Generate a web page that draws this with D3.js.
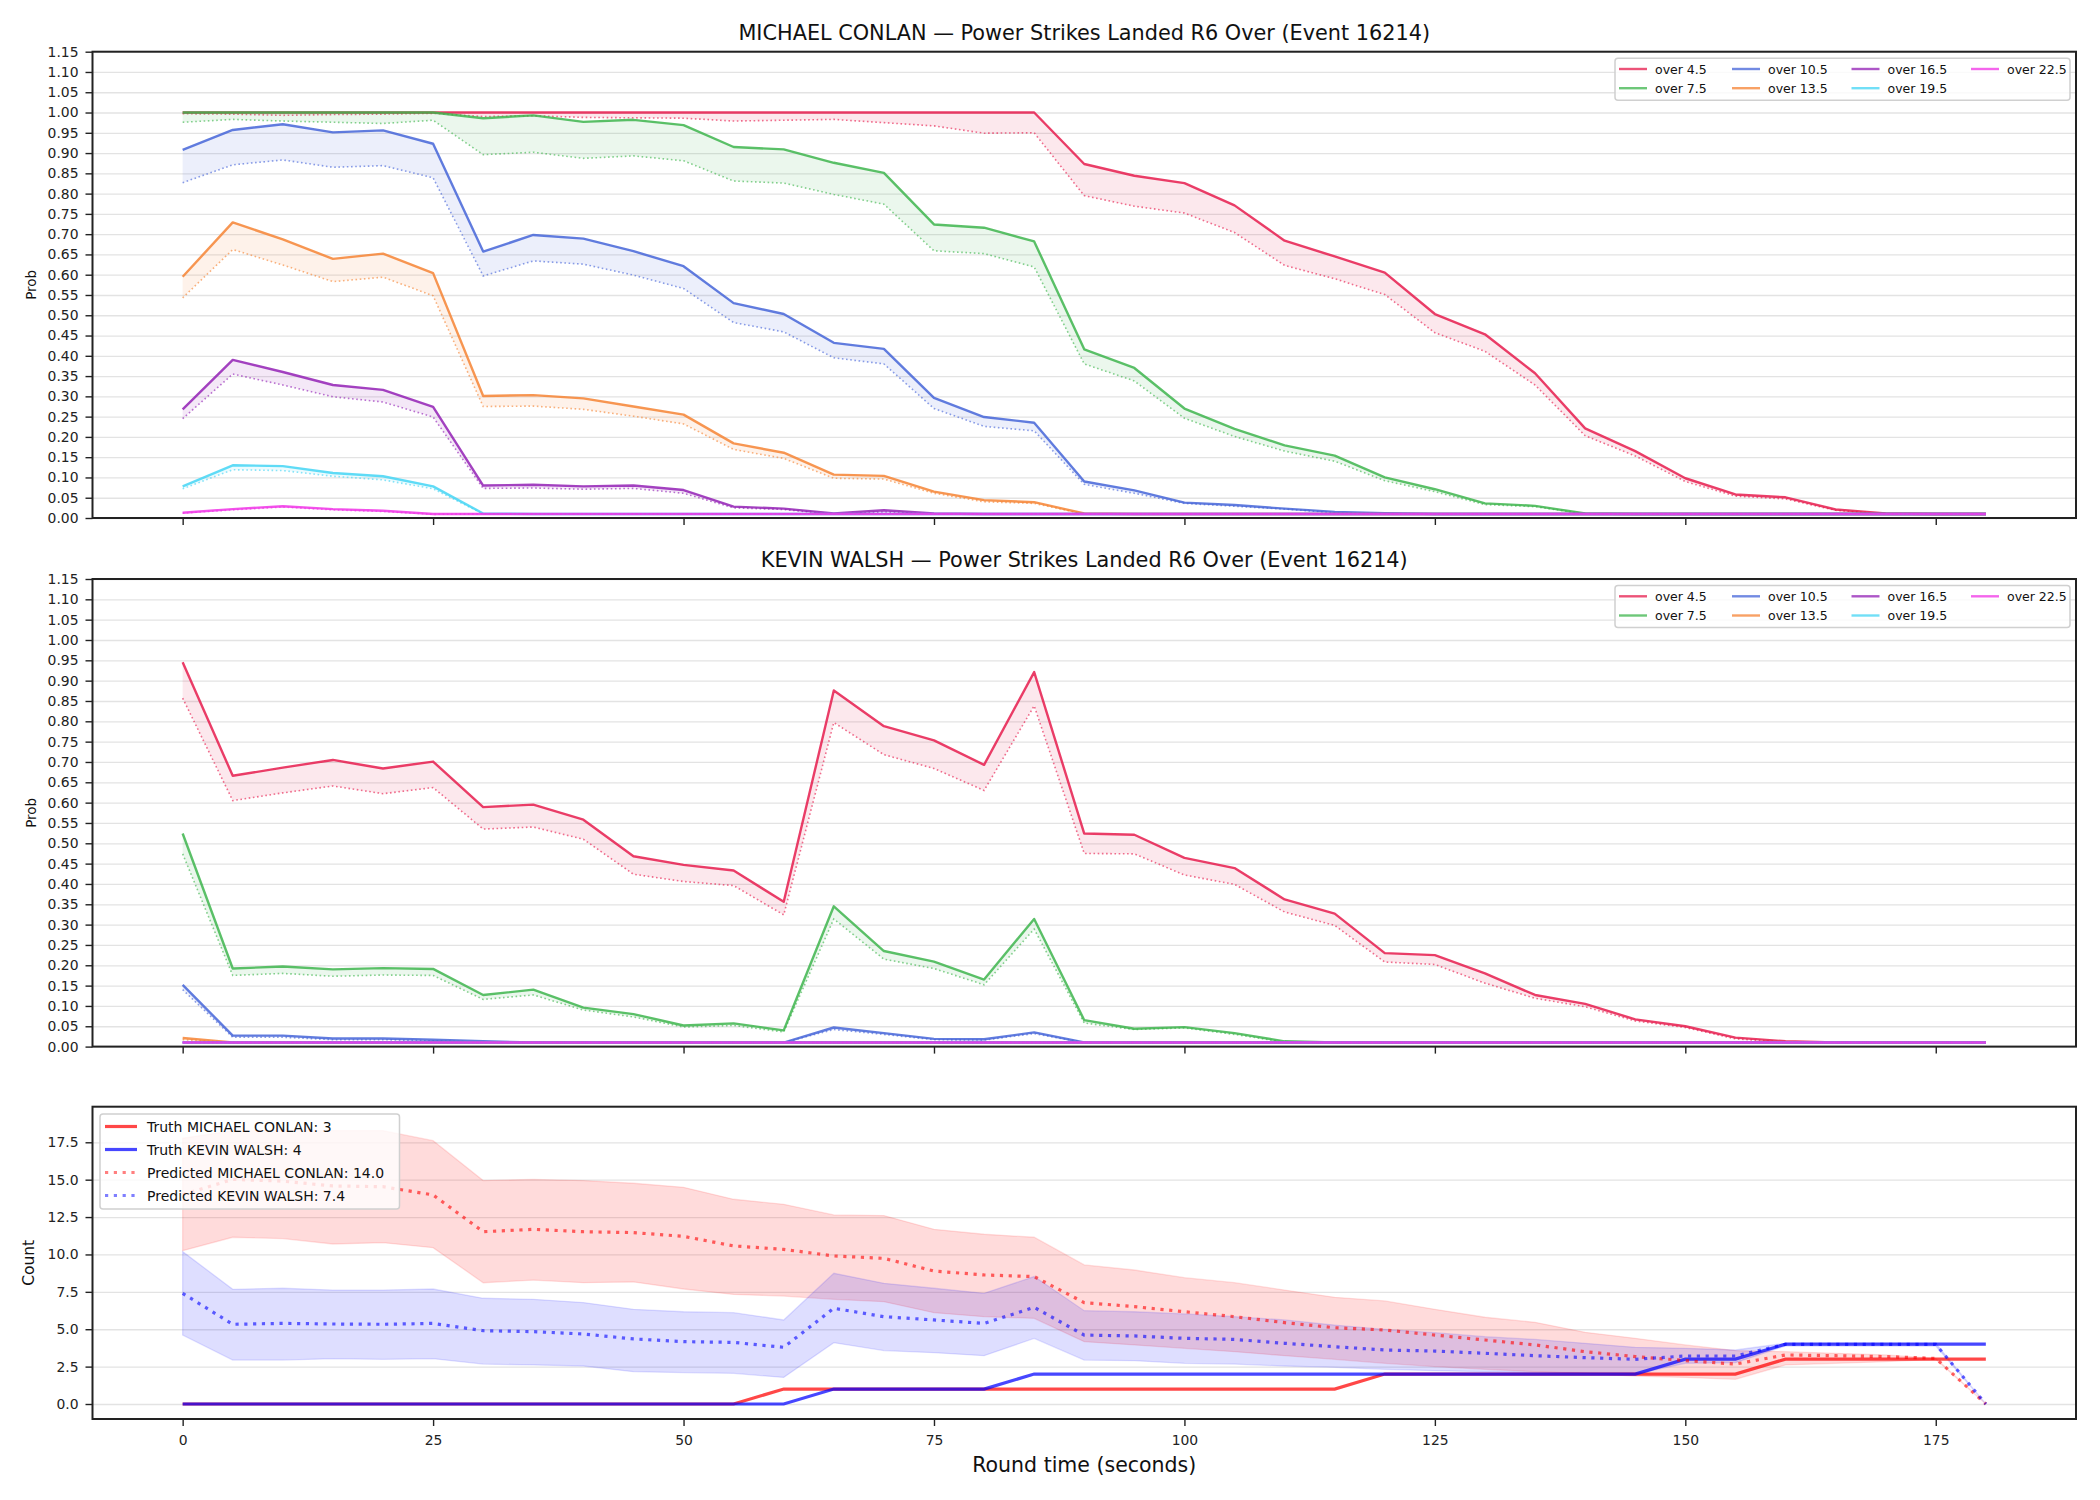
<!DOCTYPE html>
<html>
<head>
<meta charset="utf-8">
<script src="https://cdn.jsdelivr.net/npm/d3@7"></script>
<style>
  body { margin: 0; background: #fff; }
  text { font-family: "DejaVu Sans", sans-serif; }
</style>
</head>
<body>
<div id="chart"></div>
<script>
// Round time in seconds (one point every 5 s)
const roundTimes = [0, 5, 10, 15, 20, 25, 30, 35, 40, 45, 50, 55, 60, 65, 70, 75, 80, 85, 90,
  95, 100, 105, 110, 115, 120, 125, 130, 135, 140, 145, 150, 155, 160, 165, 170, 175, 180];

const thresholdLabels = ["over 4.5", "over 7.5", "over 10.5", "over 13.5", "over 16.5", "over 19.5", "over 22.5"];
const probTicks = [0.00, 0.05, 0.10, 0.15, 0.20, 0.25, 0.30, 0.35, 0.40, 0.45, 0.50, 0.55,
  0.60, 0.65, 0.70, 0.75, 0.80, 0.85, 0.90, 0.95, 1.00, 1.05, 1.10, 1.15];
const countTicks = [0, 2.5, 5, 7.5, 10, 12.5, 15, 17.5];
const timeTicks = [0, 25, 50, 75, 100, 125, 150, 175];

// MICHAEL CONLAN: solid line and dotted lower line per threshold
const conlanOver45 = [1, 1, 1, 1, 1, 1, 1, 1, 1, 1, 1, 1, 1, 1, 1, 1, 1, 1,
  0.873, 0.844, 0.826, 0.771, 0.684, 0.645, 0.605, 0.503, 0.453, 0.357, 0.221, 0.165, 0.098, 0.058, 0.051, 0.021, 0.011, 0.01, 0.01];
const conlanOver45Low = [0.997, 0.996, 0.993, 0.995, 0.996, 0.998, 0.990, 0.992, 0.988, 0.987, 0.986, 0.979, 0.981, 0.983, 0.975, 0.967, 0.949, 0.950,
  0.795, 0.769, 0.752, 0.704, 0.623, 0.590, 0.551, 0.457, 0.411, 0.328, 0.203, 0.153, 0.090, 0.054, 0.047, 0.019, 0.010, 0.010, 0.010];
const conlanOver75 = [1, 1, 1, 1, 1, 1, 0.986, 0.993, 0.977, 0.982, 0.969, 0.915, 0.909, 0.876, 0.851, 0.724, 0.716, 0.682,
  0.416, 0.370, 0.270, 0.220, 0.179, 0.154, 0.100, 0.071, 0.036, 0.030, 0.011, 0.01, 0.01, 0.01, 0.01, 0.01, 0.01, 0.01, 0.01];
const conlanOver75Low = [0.976, 0.983, 0.979, 0.976, 0.973, 0.981, 0.896, 0.902, 0.887, 0.893, 0.881, 0.831, 0.826, 0.798, 0.774, 0.659, 0.652, 0.619,
  0.380, 0.338, 0.246, 0.201, 0.165, 0.140, 0.092, 0.065, 0.033, 0.028, 0.010, 0.01, 0.01, 0.01, 0.01, 0.01, 0.01, 0.01, 0.01];
const conlanOver105 = [0.908, 0.957, 0.971, 0.951, 0.956, 0.923, 0.657, 0.698, 0.689, 0.658, 0.621, 0.530, 0.503, 0.432, 0.417, 0.296, 0.249, 0.235,
  0.090, 0.068, 0.038, 0.032, 0.023, 0.015, 0.012, 0.01, 0.01, 0.01, 0.01, 0.01, 0.01, 0.01, 0.01, 0.01, 0.01, 0.01, 0.01];
const conlanOver105Low = [0.827, 0.871, 0.883, 0.865, 0.869, 0.839, 0.597, 0.634, 0.626, 0.599, 0.566, 0.482, 0.459, 0.395, 0.380, 0.270, 0.226, 0.215,
  0.083, 0.061, 0.036, 0.029, 0.022, 0.013, 0.010, 0.01, 0.01, 0.01, 0.01, 0.01, 0.01, 0.01, 0.01, 0.01, 0.01, 0.01, 0.01];
const conlanOver135 = [0.595, 0.729, 0.687, 0.639, 0.652, 0.604, 0.301, 0.303, 0.295, 0.275, 0.255, 0.184, 0.161, 0.107, 0.104, 0.065, 0.044, 0.039,
  0.011, 0.01, 0.01, 0.01, 0.01, 0.01, 0.01, 0.01, 0.01, 0.01, 0.01, 0.01, 0.01, 0.01, 0.01, 0.01, 0.01, 0.01, 0.01];
const conlanOver135Low = [0.543, 0.662, 0.624, 0.583, 0.594, 0.548, 0.275, 0.276, 0.268, 0.251, 0.232, 0.169, 0.147, 0.098, 0.096, 0.061, 0.040, 0.036,
  0.010, 0.01, 0.01, 0.01, 0.01, 0.01, 0.01, 0.01, 0.01, 0.01, 0.01, 0.01, 0.01, 0.01, 0.01, 0.01, 0.01, 0.01, 0.01];
const conlanOver165 = [0.268, 0.390, 0.360, 0.328, 0.316, 0.274, 0.080, 0.082, 0.078, 0.080, 0.069, 0.028, 0.023, 0.011, 0.019, 0.011, 0.01, 0.01,
  0.01, 0.01, 0.01, 0.01, 0.01, 0.01, 0.01, 0.01, 0.01, 0.01, 0.01, 0.01, 0.01, 0.01, 0.01, 0.01, 0.01, 0.01, 0.01];
const conlanOver165Low = [0.245, 0.355, 0.328, 0.299, 0.286, 0.249, 0.073, 0.074, 0.071, 0.073, 0.061, 0.025, 0.021, 0.009, 0.015, 0.010, 0.01, 0.01,
  0.01, 0.01, 0.01, 0.01, 0.01, 0.01, 0.01, 0.01, 0.01, 0.01, 0.01, 0.01, 0.01, 0.01, 0.01, 0.01, 0.01, 0.01, 0.01];
const conlanOver195 = [0.078, 0.130, 0.128, 0.111, 0.103, 0.078, 0.011, 0.01, 0.01, 0.01, 0.01, 0.01, 0.01, 0.01, 0.01, 0.01, 0.01, 0.01,
  0.01, 0.01, 0.01, 0.01, 0.01, 0.01, 0.01, 0.01, 0.01, 0.01, 0.01, 0.01, 0.01, 0.01, 0.01, 0.01, 0.01, 0.01, 0.01];
const conlanOver195Low = [0.072, 0.119, 0.117, 0.103, 0.094, 0.072, 0.010, 0.01, 0.01, 0.01, 0.01, 0.01, 0.01, 0.01, 0.01, 0.01, 0.01, 0.01,
  0.01, 0.01, 0.01, 0.01, 0.01, 0.01, 0.01, 0.01, 0.01, 0.01, 0.01, 0.01, 0.01, 0.01, 0.01, 0.01, 0.01, 0.01, 0.01];
const conlanOver225 = [0.013, 0.022, 0.029, 0.022, 0.018, 0.010, 0.01, 0.01, 0.01, 0.01, 0.01, 0.01, 0.01, 0.01, 0.01, 0.01, 0.01, 0.01,
  0.01, 0.01, 0.01, 0.01, 0.01, 0.01, 0.01, 0.01, 0.01, 0.01, 0.01, 0.01, 0.01, 0.01, 0.01, 0.01, 0.01, 0.01, 0.01];
const conlanOver225Low = [0.012, 0.020, 0.027, 0.020, 0.016, 0.009, 0.01, 0.01, 0.01, 0.01, 0.01, 0.01, 0.01, 0.01, 0.01, 0.01, 0.01, 0.01,
  0.01, 0.01, 0.01, 0.01, 0.01, 0.01, 0.01, 0.01, 0.01, 0.01, 0.01, 0.01, 0.01, 0.01, 0.01, 0.01, 0.01, 0.01, 0.01];

// KEVIN WALSH
const walshOver45 = [0.945, 0.666, 0.686, 0.705, 0.684, 0.701, 0.589, 0.595, 0.558, 0.468, 0.447, 0.433, 0.356, 0.876, 0.788, 0.753, 0.693, 0.921,
  0.524, 0.521, 0.464, 0.439, 0.362, 0.327, 0.230, 0.225, 0.180, 0.127, 0.105, 0.067, 0.050, 0.022, 0.013, 0.01, 0.01, 0.01, 0.01];
const walshOver45Low = [0.857, 0.605, 0.624, 0.641, 0.622, 0.637, 0.535, 0.540, 0.510, 0.424, 0.406, 0.396, 0.324, 0.797, 0.718, 0.684, 0.630, 0.838,
  0.475, 0.474, 0.422, 0.399, 0.331, 0.298, 0.208, 0.202, 0.156, 0.119, 0.098, 0.063, 0.047, 0.019, 0.011, 0.01, 0.01, 0.01, 0.01];
const walshOver75 = [0.524, 0.192, 0.197, 0.190, 0.193, 0.191, 0.127, 0.140, 0.096, 0.080, 0.052, 0.057, 0.040, 0.345, 0.235, 0.209, 0.165, 0.314,
  0.065, 0.044, 0.048, 0.033, 0.013, 0.01, 0.01, 0.01, 0.01, 0.01, 0.01, 0.01, 0.01, 0.01, 0.01, 0.01, 0.01, 0.01, 0.01];
const walshOver75Low = [0.474, 0.175, 0.180, 0.173, 0.176, 0.175, 0.116, 0.127, 0.090, 0.073, 0.048, 0.052, 0.036, 0.314, 0.215, 0.192, 0.152, 0.289,
  0.058, 0.042, 0.046, 0.030, 0.011, 0.01, 0.01, 0.01, 0.01, 0.01, 0.01, 0.01, 0.01, 0.01, 0.01, 0.01, 0.01, 0.01, 0.01];
const walshOver105 = [0.152, 0.027, 0.027, 0.020, 0.020, 0.017, 0.013, 0.01, 0.01, 0.01, 0.01, 0.01, 0.01, 0.047, 0.033, 0.019, 0.018, 0.035,
  0.01, 0.01, 0.01, 0.01, 0.01, 0.01, 0.01, 0.01, 0.01, 0.01, 0.01, 0.01, 0.01, 0.01, 0.01, 0.01, 0.01, 0.01, 0.01];
const walshOver105Low = [0.140, 0.023, 0.023, 0.017, 0.017, 0.014, 0.011, 0.01, 0.01, 0.01, 0.01, 0.01, 0.01, 0.042, 0.030, 0.017, 0.016, 0.032,
  0.01, 0.01, 0.01, 0.01, 0.01, 0.01, 0.01, 0.01, 0.01, 0.01, 0.01, 0.01, 0.01, 0.01, 0.01, 0.01, 0.01, 0.01, 0.01];
const walshOver135 = [0.021, 0.01, 0.01, 0.01, 0.01, 0.01, 0.01, 0.01, 0.01, 0.01, 0.01, 0.01, 0.01, 0.01, 0.01, 0.01, 0.01, 0.01,
  0.01, 0.01, 0.01, 0.01, 0.01, 0.01, 0.01, 0.01, 0.01, 0.01, 0.01, 0.01, 0.01, 0.01, 0.01, 0.01, 0.01, 0.01, 0.01];
const walshOver135Low = [0.017, 0.01, 0.01, 0.01, 0.01, 0.01, 0.01, 0.01, 0.01, 0.01, 0.01, 0.01, 0.01, 0.01, 0.01, 0.01, 0.01, 0.01,
  0.01, 0.01, 0.01, 0.01, 0.01, 0.01, 0.01, 0.01, 0.01, 0.01, 0.01, 0.01, 0.01, 0.01, 0.01, 0.01, 0.01, 0.01, 0.01];
// 16.5, 19.5 and 22.5 stay on the floor the whole round
const walshFloor = [0.01, 0.01, 0.01, 0.01, 0.01, 0.01, 0.01, 0.01, 0.01, 0.01, 0.01, 0.01, 0.01, 0.01, 0.01, 0.01, 0.01, 0.01,
  0.01, 0.01, 0.01, 0.01, 0.01, 0.01, 0.01, 0.01, 0.01, 0.01, 0.01, 0.01, 0.01, 0.01, 0.01, 0.01, 0.01, 0.01, 0.01];

// Count panel
const truthConlan = [0, 0, 0, 0, 0, 0, 0, 0, 0, 0, 0, 0, 1, 1, 1, 1, 1, 1, 1, 1, 1, 1, 1, 1, 2, 2, 2, 2, 2, 2, 2, 2, 3, 3, 3, 3, 3];
const truthWalsh = [0, 0, 0, 0, 0, 0, 0, 0, 0, 0, 0, 0, 0, 1, 1, 1, 1, 2, 2, 2, 2, 2, 2, 2, 2, 2, 2, 2, 2, 2, 3, 3, 4, 4, 4, 4, 4];
const predConlan = [14.0, 15.02, 14.9, 14.58, 14.53, 13.98, 11.52, 11.68, 11.52, 11.46, 11.21, 10.57, 10.34, 9.9, 9.74, 8.89, 8.63, 8.52, 6.78,
  6.51, 6.17, 5.84, 5.44, 5.1, 4.95, 4.61, 4.28, 3.95, 3.5, 3.17, 2.9, 2.67, 3.28, 3.23, 3.17, 3.05, 0];
const predConlanHigh = [17.77, 18.28, 18.28, 18.28, 18.28, 17.61, 14.94, 15.02, 14.94, 14.76, 14.49, 13.69, 13.35, 12.64, 12.6, 11.68, 11.35, 11.15, 9.3,
  8.96, 8.45, 8.11, 7.62, 7.13, 6.89, 6.33, 5.8, 5.46, 4.79, 4.39, 3.95, 3.57, 3.5, 3.39, 3.28, 3.05, 0];
const predConlanLow = [10.25, 11.15, 11.06, 10.7, 10.79, 10.45, 8.11, 8.29, 8.11, 8.16, 7.69, 7.33, 7.22, 7.0, 6.84, 6.11, 5.84, 5.73, 4.17,
  3.95, 3.72, 3.5, 3.23, 2.99, 2.72, 2.5, 2.32, 2.16, 2.05, 1.87, 1.78, 1.65, 2.61, 2.72, 2.83, 2.99, 0];
const predWalsh = [7.4, 5.33, 5.39, 5.35, 5.33, 5.39, 4.9, 4.84, 4.68, 4.35, 4.17, 4.12, 3.79, 6.4, 5.84, 5.62, 5.39, 6.46, 4.61,
  4.55, 4.39, 4.32, 4.06, 3.83, 3.61, 3.54, 3.39, 3.23, 3.1, 2.99, 3.21, 3.21, 3.99, 3.99, 3.99, 3.99, 0];
const predWalshHigh = [10.19, 7.67, 7.74, 7.62, 7.62, 7.69, 7.07, 7.0, 6.78, 6.33, 6.17, 6.11, 5.62, 8.74, 8.07, 7.74, 7.4, 8.52, 6.24,
  6.17, 6.02, 5.84, 5.62, 5.28, 4.99, 4.77, 4.5, 4.32, 4.06, 3.79, 3.72, 3.61, 4.06, 4.06, 4.06, 4.06, 0];
const predWalshLow = [4.61, 2.94, 2.94, 3.03, 2.99, 3.03, 2.67, 2.61, 2.54, 2.16, 2.1, 2.05, 1.78, 4.1, 3.57, 3.43, 3.23, 4.39, 2.94,
  2.9, 2.72, 2.67, 2.54, 2.45, 2.32, 2.23, 2.16, 2.1, 2.05, 2.0, 2.72, 2.76, 3.88, 3.88, 3.88, 3.88, 0];
const countLegendLabels = ["Truth MICHAEL CONLAN: 3", "Truth KEVIN WALSH: 4", "Predicted MICHAEL CONLAN: 14.0", "Predicted KEVIN WALSH: 7.4"];

const lineColors = ["#e6194b", "#3cb44b", "#4363d8", "#f58231", "#911eb4", "#42d4f4", "#f032e6"];

let svgWidth = 2100;
let svgHeight = 1500;
let plotLeft = 92.5;
let plotRight = 2076;

let svg = d3.select("#chart")
  .append("svg")
  .attr("width", svgWidth)
  .attr("height", svgHeight);

svg.append("rect")
  .attr("width", svgWidth)
  .attr("height", svgHeight)
  .attr("fill", "#fff");

let xScale = d3.scaleLinear()
  .domain([-9, 189])
  .range([plotLeft, plotRight]);

// horizontal grid lines behind the data
function drawGrid(g, yScale, ticks) {
  g.append("g")
    .attr("transform", `translate(${plotLeft},0)`)
    .call(d3.axisLeft(yScale).tickValues(ticks).tickSize(-(plotRight - plotLeft)).tickFormat(""))
    .call(a => a.select(".domain").remove())
    .selectAll("line")
    .attr("stroke", "#e3e3e3")
    .attr("stroke-width", 1.3);
}

// ticks, labels and the frame
function drawAxes(g, yScale, ticks, fmt, top, bottom, showTimeLabels) {
  let leftAxis = g.append("g")
    .attr("transform", `translate(${plotLeft},0)`)
    .call(d3.axisLeft(yScale).tickValues(ticks).tickFormat(fmt).tickSize(7).tickPadding(7));
  leftAxis.select(".domain").remove();

  let bottomAxis = g.append("g")
    .attr("transform", `translate(0,${bottom})`)
    .call(d3.axisBottom(xScale).tickValues(timeTicks).tickSize(7).tickPadding(9)
      .tickFormat(showTimeLabels ? d3.format("d") : ""));
  bottomAxis.select(".domain").remove();

  [leftAxis, bottomAxis].forEach(function(a) {
    a.attr("font-family", "DejaVu Sans")
      .attr("font-size", 13.9)
      .attr("color", "#222");
    a.selectAll("line").attr("stroke-width", 1.4);
  });

  g.append("rect")
    .attr("x", plotLeft)
    .attr("y", top)
    .attr("width", plotRight - plotLeft)
    .attr("height", bottom - top)
    .attr("fill", "none")
    .attr("stroke", "#222")
    .attr("stroke-width", 2);
}

function drawProbPanel(top, bottom, title, highSeries, lowSeries) {
  let yScale = d3.scaleLinear()
    .domain([0, 1.15])
    .range([bottom, top]);

  let g = svg.append("g");
  drawGrid(g, yScale, probTicks);

  let line = d3.line()
    .x((d, i) => xScale(roundTimes[i]))
    .y(d => yScale(d));

  highSeries.forEach(function(high, k) {
    let low = lowSeries[k];
    let band = d3.area()
      .x((d, i) => xScale(roundTimes[i]))
      .y0((d, i) => yScale(low[i]))
      .y1(d => yScale(d));

    g.append("path")
      .datum(high)
      .attr("d", band)
      .attr("fill", lineColors[k])
      .attr("fill-opacity", 0.1);

    g.append("path")
      .datum(high)
      .attr("d", line)
      .attr("fill", "none")
      .attr("stroke", lineColors[k])
      .attr("stroke-opacity", 0.84)
      .attr("stroke-width", 2.4)
      .attr("stroke-linejoin", "round");

    g.append("path")
      .datum(low)
      .attr("d", line)
      .attr("fill", "none")
      .attr("stroke", lineColors[k])
      .attr("stroke-opacity", 0.62)
      .attr("stroke-width", 1.6)
      .attr("stroke-dasharray", "1.6,2.6");
  });

  drawAxes(g, yScale, probTicks, d3.format(".2f"), top, bottom, false);

  g.append("text")
    .attr("x", (plotLeft + plotRight) / 2)
    .attr("y", top - 12)
    .attr("text-anchor", "middle")
    .attr("font-size", 20.8)
    .attr("fill", "#111")
    .text(title);

  g.append("text")
    .attr("transform", `translate(35.5, ${(top + bottom) / 2}) rotate(-90)`)
    .attr("text-anchor", "middle")
    .attr("font-size", 13.5)
    .attr("fill", "#111")
    .text("Prob");

  // legend, 4 columns filled top to bottom
  let legend = g.append("g");
  legend.append("rect")
    .attr("x", plotRight - 461)
    .attr("y", top + 6.5)
    .attr("width", 455)
    .attr("height", 42)
    .attr("rx", 3)
    .attr("fill", "#fff")
    .attr("fill-opacity", 0.8)
    .attr("stroke", "#d0d0d0")
    .attr("stroke-width", 1.5);

  let colStarts = [plotRight - 457, plotRight - 344, plotRight - 224.5, plotRight - 105];
  thresholdLabels.forEach(function(label, k) {
    let cx = colStarts[Math.floor(k / 2)];
    let cy = top + (k % 2 === 0 ? 17.3 : 36.5);
    legend.append("line")
      .attr("x1", cx).attr("x2", cx + 28)
      .attr("y1", cy).attr("y2", cy)
      .attr("stroke", lineColors[k])
      .attr("stroke-opacity", 0.75)
      .attr("stroke-width", 2.4);
    legend.append("text")
      .attr("x", cx + 36)
      .attr("y", cy)
      .attr("dy", "0.36em")
      .attr("font-size", 12.5)
      .attr("fill", "#111")
      .text(label);
  });
}

drawProbPanel(51.7, 518, "MICHAEL CONLAN \u2014 Power Strikes Landed R6 Over (Event 16214)",
  [conlanOver45, conlanOver75, conlanOver105, conlanOver135, conlanOver165, conlanOver195, conlanOver225],
  [conlanOver45Low, conlanOver75Low, conlanOver105Low, conlanOver135Low, conlanOver165Low, conlanOver195Low, conlanOver225Low]);

drawProbPanel(579, 1046.6, "KEVIN WALSH \u2014 Power Strikes Landed R6 Over (Event 16214)",
  [walshOver45, walshOver75, walshOver105, walshOver135, walshFloor, walshFloor, walshFloor],
  [walshOver45Low, walshOver75Low, walshOver105Low, walshOver135Low, walshFloor, walshFloor, walshFloor]);

// Count panel
let countTop = 1106.7;
let countBottom = 1419;
let yCount = d3.scaleLinear()
  .domain([-1.003, 19.88])
  .range([countBottom, countTop]);

let gc = svg.append("g");
drawGrid(gc, yCount, countTicks);

let countLine = d3.line()
  .x((d, i) => xScale(roundTimes[i]))
  .y(d => yCount(d));

function countBand(high, low) {
  return d3.area()
    .x((d, i) => xScale(roundTimes[i]))
    .y0((d, i) => yCount(low[i]))
    .y1(d => yCount(d))(high);
}

[[predConlanHigh, predConlanLow, "#ff0000", 0.14], [predWalshHigh, predWalshLow, "#0000ff", 0.13]].forEach(function(b) {
  gc.append("path")
    .attr("d", countBand(b[0], b[1]))
    .attr("fill", b[2])
    .attr("fill-opacity", b[3])
    .attr("stroke", b[2])
    .attr("stroke-opacity", 0.12)
    .attr("stroke-width", 1.3);
});

let countSeries = [
  { values: truthConlan, color: "#ff0000", dash: null, opacity: 0.72 },
  { values: truthWalsh, color: "#0000ff", dash: null, opacity: 0.72 },
  { values: predConlan, color: "#ff0000", dash: "3.2,5.6", opacity: 0.6 },
  { values: predWalsh, color: "#0000ff", dash: "3.2,5.6", opacity: 0.6 }
];

countSeries.forEach(function(s) {
  gc.append("path")
    .datum(s.values)
    .attr("d", countLine)
    .attr("fill", "none")
    .attr("stroke", s.color)
    .attr("stroke-opacity", s.opacity)
    .attr("stroke-width", 3.2)
    .attr("stroke-dasharray", s.dash);
});

drawAxes(gc, yCount, countTicks, d3.format(".1f"), countTop, countBottom, true);

gc.append("text")
  .attr("transform", `translate(34, ${(countTop + countBottom) / 2}) rotate(-90)`)
  .attr("text-anchor", "middle")
  .attr("font-size", 15.5)
  .attr("fill", "#111")
  .text("Count");

gc.append("text")
  .attr("x", (plotLeft + plotRight) / 2)
  .attr("y", 1472)
  .attr("text-anchor", "middle")
  .attr("font-size", 20.5)
  .attr("fill", "#111")
  .text("Round time (seconds)");

// count legend
let cl = gc.append("g");
cl.append("rect")
  .attr("x", plotLeft + 7.5)
  .attr("y", countTop + 7.3)
  .attr("width", 299.5)
  .attr("height", 95)
  .attr("rx", 3)
  .attr("fill", "#fff")
  .attr("fill-opacity", 0.8)
  .attr("stroke", "#d0d0d0")
  .attr("stroke-width", 1.5);

countLegendLabels.forEach(function(label, k) {
  let cy = countTop + 19.8 + k * 23;
  cl.append("line")
    .attr("x1", plotLeft + 12.5).attr("x2", plotLeft + 44.5)
    .attr("y1", cy).attr("y2", cy)
    .attr("stroke", countSeries[k].color)
    .attr("stroke-opacity", k < 2 ? countSeries[k].opacity : 0.5)
    .attr("stroke-width", 3.2)
    .attr("stroke-dasharray", countSeries[k].dash);
  cl.append("text")
    .attr("x", plotLeft + 54.5)
    .attr("y", cy)
    .attr("dy", "0.36em")
    .attr("font-size", 14)
    .attr("fill", "#111")
    .text(label);
});
</script>
</body>
</html>
